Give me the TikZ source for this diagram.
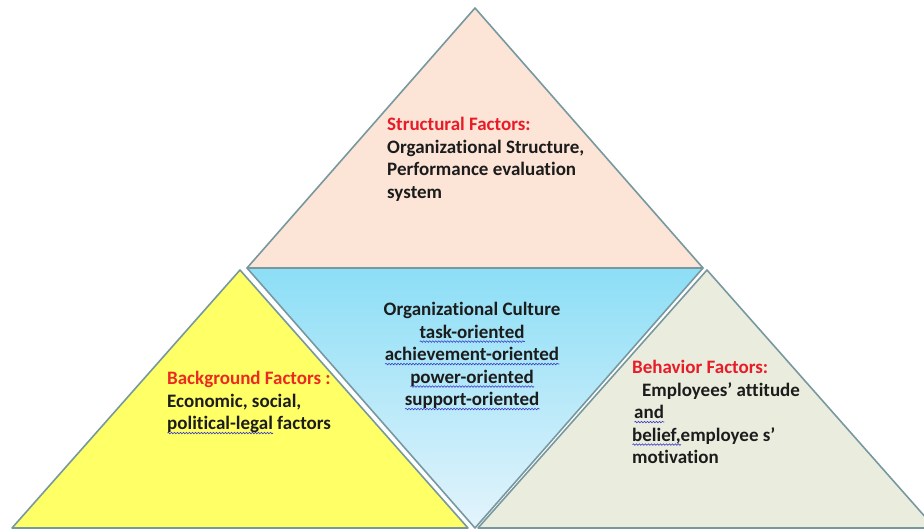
\documentclass[tikz,border=0pt]{standalone}
\usepackage{fontspec}
\setmainfont[Ligatures={NoCommon}]{Carlito}
\usetikzlibrary{decorations.pathmorphing}
\definecolor{peach}{RGB}{252,228,214}
\definecolor{sunyellow}{RGB}{255,255,102}
\definecolor{sage}{RGB}{234,237,222}
\definecolor{culttop}{RGB}{140,222,246}
\definecolor{cultbottom}{RGB}{228,244,252}
\definecolor{edgegrey}{RGB}{120,152,160}
\definecolor{headred}{RGB}{232,28,40}
\definecolor{bodyink}{RGB}{28,28,28}
\definecolor{spellblue}{RGB}{60,60,200}
\newcommand{\squig}[1]{\setbox0=\hbox{#1}\rlap{\tikz[baseline=0pt]\draw[spellblue, line width=0.6pt, decorate, decoration={snake, amplitude=0.8pt, segment length=3pt}] (0pt,-3.5pt) -- (\the\wd0,-3.5pt);}\box0\relax}
\begin{document}
\begin{tikzpicture}[x=1pt, y=-1pt,
    edge/.style={draw=edgegrey, line width=1.6pt, line join=round},
    blocktext/.style={font=\fontsize{19}{22.5}\selectfont\bfseries, text=bodyink, inner sep=0pt}]
  \useasboundingbox (0,0) rectangle (924,531);
  \clip (0,0) rectangle (924,531);
  \coordinate (apex) at (475,8);
  \coordinate (topL) at (247,268);
  \coordinate (topR) at (703,268);
  \coordinate (leftA) at (240,270);
  \coordinate (leftL) at (12,528);
  \coordinate (leftR) at (468,528);
  \coordinate (rightA) at (707,270);
  \coordinate (rightL) at (478,528);
  \coordinate (rightR) at (935,528);
  \coordinate (cultB) at (475,528);
  \filldraw[edge, fill=peach] (apex) -- (topL) -- (topR) -- cycle;
  \filldraw[edge, fill=sunyellow] (leftA) -- (leftL) -- (leftR) -- cycle;
  \filldraw[edge, fill=sage] (rightA) -- (rightL) -- (rightR) -- cycle;
  \shadedraw[edge, top color=culttop, bottom color=cultbottom] (topL) -- (topR) -- (cultB) -- cycle;
  \node[blocktext, anchor=north west, align=left] (structural) at (387,117)
    {\textcolor{headred}{Structural Factors:}\\Organizational Structure,\\Performance evaluation\\system};
  \node[blocktext, anchor=north, align=center] (culture) at (472,302)
    {Organizational Culture\\\squig{task-oriented}\\\squig{achievement-oriented}\\\squig{power-oriented}\\\squig{support-oriented}};
  \node[blocktext, anchor=north west, align=left] (background) at (167,371)
    {\textcolor{headred!85!orange}{Background Factors :}\\Economic, social,\\\squig{political-legal} factors};
  \node[blocktext, anchor=north west, align=left] (behavior) at (632,360)
    {\textcolor{headred}{Behavior Factors:}\\\hspace*{10pt}Employees’ attitude\\\hspace*{2pt}\squig{and}\\\squig{belief,}employee s’\\motivation};
\end{tikzpicture}
\end{document}
